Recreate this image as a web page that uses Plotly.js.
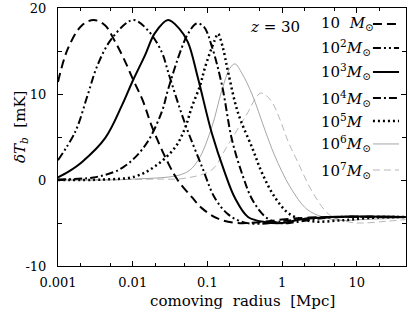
<!DOCTYPE html>
<html>
<head>
<meta charset="utf-8">
<script src="https://cdn.plot.ly/plotly-3.0.1.min.js"></script>
<style>html,body{margin:0;padding:0;background:#fff;}#chart{width:408px;height:315px;}</style>
</head>
<body>
<div id="chart"></div>
<script>
// comoving radius [Mpc] and delta T_b [mK] for each halo mass (z = 30)
const r10    = [0.001, 0.00136, 0.0021, 0.003, 0.00425, 0.0058, 0.0077, 0.0101, 0.0137, 0.0181, 0.0297, 0.04, 0.062, 0.085, 0.139, 0.25, 0.5, 1.0, 2.0, 5.0, 45];
const dT10   = [11.4, 15.3, 18.0, 18.6, 18.0, 16.1, 14.0, 11.7, 9.2, 6.2, 2.0, 0.0, -2.0, -3.3, -4.5, -5.0, -4.9, -4.6, -4.4, -4.3, -4.3];

const r100   = [0.001, 0.0017, 0.0025, 0.0034, 0.0053, 0.0101, 0.016, 0.0247, 0.0297, 0.05, 0.085, 0.126, 0.19, 0.3, 0.5, 1.0, 2.0, 5.0, 45];
const dT100  = [2.3, 5.6, 9.9, 13.4, 16.5, 18.6, 17.4, 14.8, 12.6, 6.6, 1.5, -2.1, -4.0, -4.9, -5.1, -4.8, -4.5, -4.3, -4.3];

const r1e3   = [0.001, 0.0014, 0.0021, 0.0043, 0.0072, 0.0101, 0.0146, 0.0199, 0.0297, 0.042, 0.055, 0.075, 0.115, 0.172, 0.234, 0.35, 0.6, 1.0, 1.74, 4.4, 45];
const dT1e3  = [0.3, 1.0, 2.1, 4.9, 8.7, 11.6, 14.5, 17.1, 18.6, 17.6, 16.0, 11.8, 5.4, 0.8, -2.1, -4.3, -4.9, -5.0, -4.6, -4.3, -4.3];

const r1e4   = [0.001, 0.003, 0.0055, 0.0075, 0.0107, 0.016, 0.0247, 0.0297, 0.045, 0.055, 0.072, 0.09, 0.115, 0.157, 0.213, 0.30, 0.40, 0.6, 0.9, 1.5, 3, 6, 45];
const dT1e4  = [0.05, 0.3, 0.9, 1.5, 2.6, 4.5, 8.0, 10.5, 15.3, 17.0, 18.2, 17.8, 15.5, 11.0, 4.7, 0.4, -2.3, -4.3, -5.0, -4.9, -4.5, -4.3, -4.3];

const r1e5   = [0.001, 0.004, 0.0107, 0.02, 0.037, 0.05, 0.062, 0.08, 0.093, 0.126, 0.139, 0.16, 0.189, 0.257, 0.4, 0.54, 0.8, 1.28, 2.5, 6, 15, 45];
const dT1e5  = [0.0, 0.05, 0.4, 1.6, 3.8, 6.0, 8.5, 11.0, 13.1, 16.3, 17.0, 15.5, 12.6, 7.8, 3.7, 0.8, -2.0, -4.0, -4.8, -4.7, -4.4, -4.3];

const r1e6   = [0.001, 0.01, 0.05, 0.075, 0.115, 0.157, 0.2, 0.234, 0.29, 0.395, 0.59, 0.8, 1.28, 2.15, 3.5, 6, 12, 45];
const dT1e6  = [0.0, 0.1, 0.8, 2.3, 6.2, 10.5, 13.0, 13.5, 12.4, 10.0, 5.8, 2.8, -0.8, -3.4, -4.3, -4.7, -4.6, -4.4];

const r1e7   = [0.001, 0.02, 0.05, 0.115, 0.18, 0.32, 0.52, 0.7, 0.94, 1.2, 1.58, 2.59, 4.38, 8, 12, 25, 45];
const dT1e7  = [0.0, 0.1, 0.2, 1.2, 3.8, 7.3, 10.1, 9.3, 7.0, 4.5, 2.3, -1.5, -4.1, -4.9, -5.0, -4.8, -4.6];

const legendLabels = [
  "10\u00a0 <i>M</i><sub>\u2299</sub>",
  "10<sup>2</sup><i>M</i><sub>\u2299</sub>",
  "10<sup>3</sup><i>M</i><sub>\u2299</sub>",
  "10<sup>4</sup><i>M</i><sub>\u2299</sub>",
  "10<sup>5</sup><i>M</i>",
  "10<sup>6</sup><i>M</i><sub>\u2299</sub>",
  "10<sup>7</sup><i>M</i><sub>\u2299</sub>"
];
const xTickVals = [0.001, 0.01, 0.1, 1, 10];
const xTickText = ["0.001", "0.01", "0.1", "1", "10"];
const yTickVals = [-10, 0, 10, 20];
const yTickText = ["-10", "0", "10", "20"];

const styles = [
  {color:"#000", width:2, dash:"9px,5px"},
  {color:"#000", width:2, dash:"8px,3px,2px,3px,2px,3px"},
  {color:"#000", width:2, dash:"solid"},
  {color:"#000", width:2, dash:"8px,3px,2px,3px"},
  {color:"#000", width:2.5, dash:"2px,3px"},
  {color:"#808080", width:0.7, dash:"solid"},
  {color:"#999", width:0.7, dash:"7px,4px"}
];
const series = [[r10,dT10],[r100,dT100],[r1e3,dT1e3],[r1e4,dT1e4],[r1e5,dT1e5],[r1e6,dT1e6],[r1e7,dT1e7]];
const order = [6,5,4,3,1,0,2];
const traces = order.map(i => ({
  x: series[i][0], y: series[i][1], type:"scatter", mode:"lines",
  line: Object.assign({shape:"spline", smoothing:1}, styles[i]),
  showlegend:false, hoverinfo:"skip"
}));

const F = "DejaVu Serif";
const legY = [0.938, 0.845, 0.752, 0.651, 0.562, 0.473, 0.372];
const annotations = legendLabels.map((t,i) => ({
  text:t, xref:"paper", yref:"paper", x:0.75, y:legY[i], xanchor:"left", yanchor:"middle",
  showarrow:false, font:{family:F, size:15, color:"#000"}
}));
const shapes = styles.map((s,i) => ({
  type:"line", xref:"paper", yref:"paper", x0:0.905, x1:0.98, y0:legY[i], y1:legY[i],
  line:{color:s.color, width:s.width, dash:s.dash}, layer:"above"
}));
annotations.push({text:"<i>z</i> = 30", xref:"paper", yref:"paper", x:(275-58)/348, y:(266-27)/258,
  xanchor:"center", yanchor:"middle", showarrow:false, font:{family:F, size:15, color:"#000"}});
annotations.push({text:"<i>\u03b4T</i><sub><i>b</i></sub>\u00a0 [mK]", xref:"paper", yref:"paper",
  x:(20-58)/348, y:(266-127)/258, xanchor:"center", yanchor:"middle", textangle:-90,
  showarrow:false, font:{family:F, size:15, color:"#000"}});
annotations.push({text:"comoving\u00a0 radius\u00a0 [Mpc]", xref:"paper", yref:"paper",
  x:(242-58)/348, y:(266-301)/258, xanchor:"center", yanchor:"middle",
  showarrow:false, font:{family:F, size:15, color:"#000"}});

const layout = {
  width:408, height:315,
  margin:{l:58, r:2, t:8, b:49},
  paper_bgcolor:"#fff", plot_bgcolor:"#fff",
  font:{family:F, size:13, color:"#000"},
  xaxis:{type:"log", range:[-3, 1.659], showgrid:false, zeroline:false,
    showline:true, linecolor:"#000", linewidth:1, mirror:"ticks",
    ticks:"inside", ticklen:5, tickcolor:"#000", tickmode:"array",
    tickvals:xTickVals, ticktext:xTickText, tickfont:{family:F, size:13},
    ticklabelstandoff:4,
    minor:{tickmode:"array", tickvals:[0.002,0.005,0.02,0.05,0.2,0.5,2,5,20], ticks:"inside", ticklen:3, tickcolor:"#000"}},
  yaxis:{range:[-10, 20], showgrid:false, zeroline:false,
    showline:true, linecolor:"#000", linewidth:1, mirror:"ticks",
    ticks:"inside", ticklen:5, tickcolor:"#000", tickmode:"array",
    tickvals:yTickVals, ticktext:yTickText, tickfont:{family:F, size:13},
    ticklabelstandoff:8,
    minor:{tickmode:"array", tickvals:[-5,5,15], ticks:"inside", ticklen:4, tickcolor:"#000"}},
  annotations:annotations, shapes:shapes
};
Plotly.newPlot("chart", traces, layout, {staticPlot:true, displayModeBar:false});
</script>
</body>
</html>
